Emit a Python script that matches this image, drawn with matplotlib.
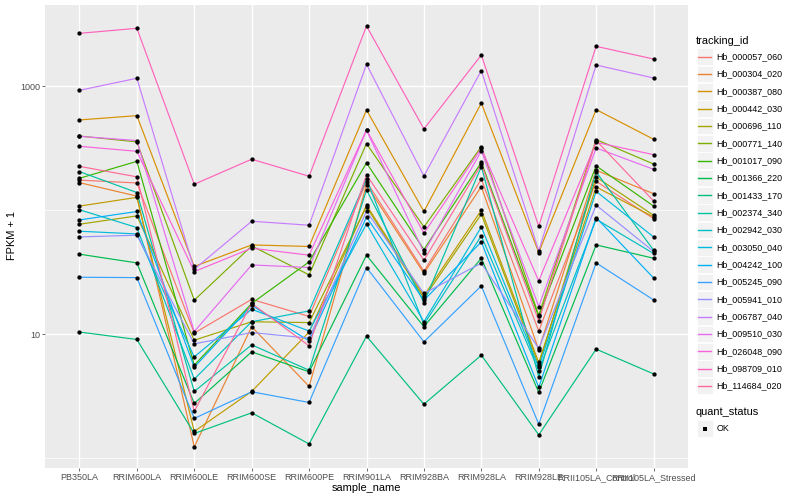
import numpy as np
import matplotlib
matplotlib.use("Agg")
import matplotlib.pyplot as plt
from matplotlib.lines import Line2D
from matplotlib.patches import Rectangle

plt.rcParams['font.family'] = ['Liberation Sans', 'DejaVu Sans']

samples = ["PB350LA", "RRIM600LA", "RRIM600LE", "RRIM600SE", "RRIM600PE", "RRIM901LA",
           "RRIM928BA", "RRIM928LA", "RRIM928LE", "RRII105LA_Control", "RRII105LA_Stressed"]

tracking_ids = ["Hb_000057_060", "Hb_000304_020", "Hb_000387_080", "Hb_000442_030",
                "Hb_000696_110", "Hb_000771_140", "Hb_001017_090", "Hb_001366_220",
                "Hb_001433_170", "Hb_002374_340", "Hb_002942_030", "Hb_003050_040",
                "Hb_004242_100", "Hb_005245_090", "Hb_005941_010", "Hb_006787_040",
                "Hb_009510_030", "Hb_026048_090", "Hb_098709_010", "Hb_114684_020"]

# FPKM + 1, one value per sample (same order as samples)
hb_000057_060 = [175, 166, 10.2, 19.1, 13.9, 170, 32.2, 178, 10.6, 171, 85.7]
hb_000304_020 = [167, 130, 1.23, 11.5, 3.79, 160, 31.0, 155, 7.47, 210, 136]
hb_000387_080 = [535, 580, 35.2, 52.5, 51.0, 644, 97.7, 733, 45.6, 649, 374]
hb_000442_030 = [108, 127, 1.64, 3.45, 10.4, 110, 20.4, 100, 5.91, 154, 88.3]
hb_000696_110 = [77.1, 90.0, 8.95, 12.6, 12.4, 107, 19.5, 92.9, 5.62, 185, 91.1]
hb_000771_140 = [397, 356, 18.8, 51.5, 30.1, 345, 73.3, 326, 14.2, 372, 236]
hb_001017_090 = [181, 248, 5.62, 17.7, 38.3, 241, 48.2, 243, 13.9, 228, 108]
hb_001366_220 = [44.2, 37.6, 2.76, 7.20, 4.97, 43.4, 11.5, 41.0, 3.39, 52.5, 41.0]
hb_001433_170 = [10.4, 9.06, 1.58, 2.32, 1.30, 9.63, 2.72, 6.77, 1.54, 7.57, 4.78]
hb_002374_340 = [205, 139, 3.45, 8.20, 5.12, 146, 18.0, 225, 4.53, 204, 47.6]
hb_002942_030 = [101, 72.5, 4.34, 12.6, 15.4, 178, 12.0, 62.1, 5.06, 84.6, 44.8]
hb_003050_040 = [67.7, 64.4, 6.56, 15.9, 10.6, 77.6, 12.6, 73.3, 5.39, 142, 60.9]
hb_004242_100 = [83.5, 97.7, 5.42, 17.1, 8.83, 87.9, 18.8, 55.5, 3.72, 87.3, 28.4]
hb_005245_090 = [28.8, 28.6, 2.09, 3.43, 2.81, 34.5, 8.67, 24.5, 1.88, 37.6, 18.9]
hb_005941_010 = [60.9, 62.9, 8.35, 10.3, 9.29, 98.2, 21.3, 37.4, 7.67, 110, 46.5]
hb_006787_040 = [928, 1161, 33.4, 81.5, 75.7, 1504, 189, 1339, 47.0, 1485, 1167]
hb_009510_030 = [395, 365, 10.5, 36.2, 34.5, 442, 45.6, 301, 16.7, 318, 214]
hb_026048_090 = [328, 299, 32.0, 49.4, 43.4, 445, 65.3, 316, 26.9, 353, 281]
hb_098709_010 = [2675, 2938, 162, 258, 188, 3064, 453, 1788, 74.3, 2102, 1660]
hb_114684_020 = [226, 186, 2.39, 17.7, 8.05, 193, 39.5, 234, 12.8, 365, 119]

series = [hb_000057_060, hb_000304_020, hb_000387_080, hb_000442_030, hb_000696_110,
          hb_000771_140, hb_001017_090, hb_001366_220, hb_001433_170, hb_002374_340,
          hb_002942_030, hb_003050_040, hb_004242_100, hb_005245_090, hb_005941_010,
          hb_006787_040, hb_009510_030, hb_026048_090, hb_098709_010, hb_114684_020]

quant_status = ["OK"]


def hcl(h, c=100.0, l=65.0):
    # polar Luv -> sRGB, like R's hcl()
    h = np.deg2rad(h)
    u = c * np.cos(h)
    v = c * np.sin(h)
    xn, yn, zn = 95.047, 100.0, 108.883
    un = 4 * xn / (xn + 15 * yn + 3 * zn)
    vn = 9 * yn / (xn + 15 * yn + 3 * zn)
    Y = yn * ((l + 16) / 116) ** 3
    up = u / (13 * l) + un
    vp = v / (13 * l) + vn
    X = 9 * Y * up / (4 * vp)
    Z = Y * (12 - 3 * up - 20 * vp) / (4 * vp)
    X, Y, Z = X / 100, Y / 100, Z / 100
    r = 3.240479 * X - 1.537150 * Y - 0.498535 * Z
    g = -0.969256 * X + 1.875992 * Y + 0.041556 * Z
    b = 0.055648 * X - 0.204043 * Y + 1.057311 * Z

    def gam(t):
        t = min(max(t, 0.0), 1.0)
        return 12.92 * t if t <= 0.0031308 else 1.055 * t ** (1 / 2.4) - 0.055
    return (gam(r), gam(g), gam(b))


n = len(tracking_ids)
colors = [hcl(h) for h in np.linspace(15, 375 - 360 / n, n)]

W, H = 800, 500
fig = plt.figure(figsize=(W / 100, H / 100), dpi=100)


def fx(x):
    return x / W


def fy(y):
    return 1 - y / H


ax = fig.add_axes([fx(45), fy(468), fx(688) - fx(45), fy(5) - fy(468)])
ax.set_facecolor("#EBEBEB")
for s in ax.spines.values():
    s.set_visible(False)

xs = np.arange(len(samples))
for vals, col in zip(series, colors):
    ax.plot(xs, vals, color=col, lw=0.85, zorder=2)
for vals in series:
    ax.plot(xs, vals, 'o', color='black', ms=3.1, mew=0, zorder=3)

ax.set_yscale('log')
allv = np.log10(np.concatenate([np.array(v, float) for v in series]))
lo, hi = allv.min(), allv.max()
pad = (hi - lo) * 0.05
ax.set_ylim(10 ** (lo - pad), 10 ** (hi + pad))
ax.set_xlim(-0.6, len(samples) - 0.4)

ax.set_yticks([10, 1000])
ax.set_yticklabels(["10", "1000"])
ax.set_yticks([1, 100], minor=True)
ax.set_yticklabels([], minor=True)
ax.set_xticks(xs)
ax.set_xticklabels(samples)
ax.tick_params(axis='both', which='major', length=2, width=0.5, color='#333333',
               labelsize=6.5, labelcolor='#4D4D4D', pad=1.5)
ax.tick_params(axis='y', which='minor', length=0)
ax.grid(True, which='major', color='white', lw=1.0)
ax.grid(True, which='minor', axis='y', color='white', lw=0.5)
ax.set_axisbelow(True)

fig.text(fx(366), fy(488), "sample_name", ha='center', va='center', fontsize=7.9)
fig.text(fx(12), fy(236), "FPKM + 1", ha='center', va='center', rotation=90, fontsize=7.9)

# legend: tracking_id
fig.text(fx(696), fy(40.5), "tracking_id", ha='left', va='center', fontsize=7.9)
row0, step = 56.7, 17.33
for i, (name, col) in enumerate(zip(tracking_ids, colors)):
    yc = row0 + i * step
    fig.add_artist(Rectangle((fx(696.5), fy(yc + 8.3)), fx(16.6), 16.6 / H,
                             transform=fig.transFigure, facecolor="#F2F2F2",
                             edgecolor='white', lw=0.6))
    fig.add_artist(Line2D([fx(698.3), fx(711.3)], [fy(yc), fy(yc)],
                          transform=fig.transFigure, color=col, lw=1.0))
    fig.text(fx(716.7), fy(yc), name, ha='left', va='center', fontsize=6.4)

# legend: quant_status
fig.text(fx(696), fy(412.3), "quant_status", ha='left', va='center', fontsize=7.9)
for j, st in enumerate(quant_status):
    yc = 428.5 + j * step
    fig.add_artist(Rectangle((fx(696.5), fy(yc + 8.3)), fx(16.6), 16.6 / H,
                             transform=fig.transFigure, facecolor="#F2F2F2",
                             edgecolor='white', lw=0.6))
    fig.add_artist(Line2D([fx(704.8)], [fy(yc)], transform=fig.transFigure,
                          marker='s', color='black', ms=2.6, mew=0, lw=0))
    fig.text(fx(716.7), fy(yc), st, ha='left', va='center', fontsize=6.4)

fig.savefig("out.png", dpi=100)
